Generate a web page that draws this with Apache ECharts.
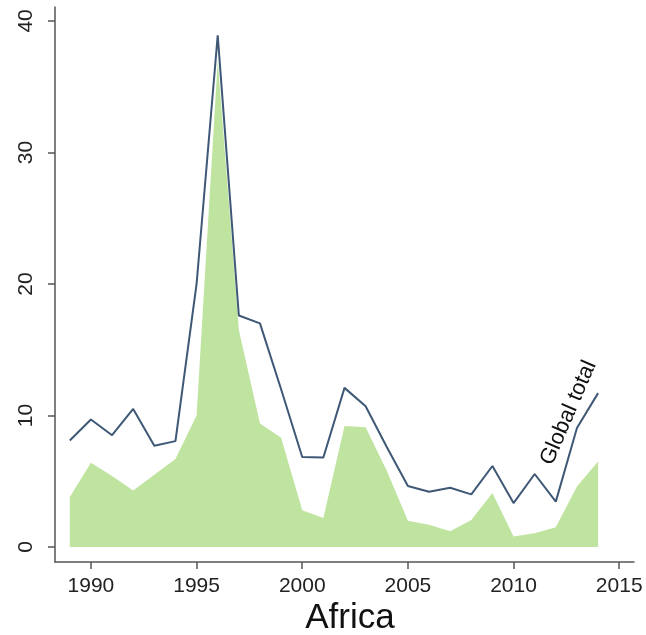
<!DOCTYPE html>
<html>
<head>
<meta charset="utf-8">
<script src="https://cdn.jsdelivr.net/npm/echarts@6/dist/echarts.min.js"></script>
<style>html,body{margin:0;padding:0;background:#fff}#c{width:646px;height:635px}</style>
</head>
<body>
<div id="c"></div>
<script>
const years = [1989,1990,1991,1992,1993,1994,1995,1996,1997,1998,1999,2000,2001,2002,2003,2004,2005,2006,2007,2008,2009,2010,2011,2012,2013,2014];
const africa = [3.8,6.4,5.4,4.3,5.5,6.7,10.0,37.0,16.5,9.4,8.3,2.8,2.2,9.2,9.1,5.8,2.0,1.7,1.2,2.05,4.1,0.8,1.05,1.5,4.6,6.5];
const globalTotal = [8.1,9.7,8.5,10.5,7.7,8.05,20.0,38.9,17.6,17.0,12.0,6.84,6.8,12.1,10.7,7.6,4.64,4.2,4.5,4.0,6.16,3.34,5.55,3.45,9.05,11.7];
const xTicks = [1990,1995,2000,2005,2010,2015];
const yTicks = [0,10,20,30,40];
const titleText = 'Africa';
const annotationText = 'Global total';

const chart = echarts.init(document.getElementById('c'), null, {renderer: 'canvas'});
const axisColor = '#555';
chart.setOption({
  animation: false,
  backgroundColor: '#fff',
  title: {
    text: titleText, left: 345, top: 596, textAlign: 'center',
    textStyle: {fontFamily: 'Liberation Sans', fontSize: 35, fontWeight: 'normal', color: '#111'}
  },
  grid: {left: 55, right: 12, top: 7, bottom: 73, containLabel: false},
  xAxis: {
    type: 'value', min: 1988.3, max: 2015.7,
    axisLine: {show: true, onZero: false, lineStyle: {color: axisColor, width: 1.5}},
    axisTick: {show: true, length: 7, customValues: xTicks, lineStyle: {color: axisColor, width: 1.5}},
    axisLabel: {customValues: xTicks, margin: 14, fontFamily: 'Liberation Sans', fontSize: 21, color: '#222', formatter: v => String(v)},
    splitLine: {show: false}
  },
  yAxis: {
    type: 'value', min: -1.14, max: 41.06,
    axisLine: {show: true, onZero: false, lineStyle: {color: axisColor, width: 1.5}},
    axisTick: {show: true, length: 7, customValues: yTicks, lineStyle: {color: axisColor, width: 1.5}},
    axisLabel: {customValues: yTicks, rotate: 90, margin: 18, fontFamily: 'Liberation Sans', fontSize: 21, color: '#222', formatter: v => String(v)},
    splitLine: {show: false}
  },
  series: [
    {
      type: 'line', name: 'Africa',
      data: years.map((y, i) => [y, africa[i]]),
      symbol: 'none', lineStyle: {width: 0},
      areaStyle: {color: '#bfe4a0', opacity: 1, origin: 0},
      z: 1
    },
    {
      type: 'line', name: 'Global total',
      data: years.map((y, i) => [y, globalTotal[i]]),
      symbol: 'none',
      lineStyle: {color: '#3e5876', width: 2},
      z: 2,
      markPoint: {
        symbol: 'circle', symbolSize: 0, silent: true,
        data: [{coord: [2012.6, 10.2], value: annotationText}],
        label: {
          show: true, position: 'inside', rotate: 66.6, formatter: annotationText,
          fontFamily: 'Liberation Sans', fontSize: 22, color: '#111', align: 'center', verticalAlign: 'middle'
        }
      }
    }
  ]
});
</script>
</body>
</html>
